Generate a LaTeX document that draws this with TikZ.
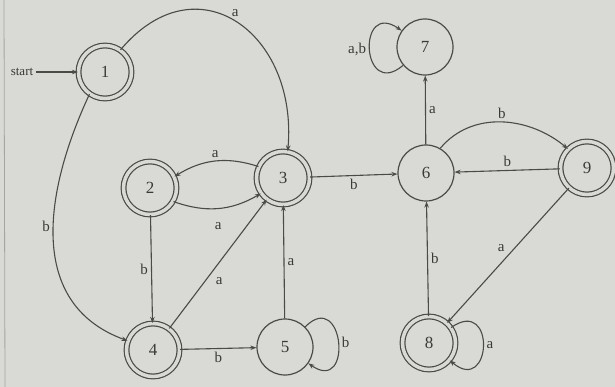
\documentclass[tikz,border=0pt]{standalone}
\usepackage{fontspec}
\setmainfont{Liberation Serif}
\usetikzlibrary{arrows.meta}
\definecolor{bg}{HTML}{D9D9D5}
\definecolor{ink}{HTML}{4A4A48}
\definecolor{txt}{HTML}{3A3A38}
\begin{document}
\begin{tikzpicture}[x=1pt,y=1pt,
  state/.style={circle,draw=ink,line width=1.2pt,minimum size=56pt,inner sep=0pt,font=\fontsize{17}{17}\selectfont,text=txt},
  accepting/.style={double=bg,double distance=3.5pt,minimum size=53pt},
  arr/.style={draw=ink,line width=1.1pt,-{Stealth[length=6pt,width=4.5pt]}},
  lbl/.style={font=\fontsize{15}{15}\selectfont,text=txt,inner sep=3pt}]
\fill[bg] (0,0) rectangle (615,-387);
\useasboundingbox (0,0) rectangle (615,-387);
\draw[ink!50,line width=0.8pt] (4,0) -- (5,-387);
\node[state,accepting] (n1) at (105,-72) {1};
\node[state,accepting] (n2) at (150,-188) {2};
\node[state,accepting] (n3) at (283,-178) {3};
\node[state,accepting] (n4) at (153,-350) {4};
\node[state] (n5) at (285,-347) {5};
\node[state] (n6) at (426,-173) {6};
\node[state] (n7) at (425,-47) {7};
\node[state,accepting] (n8) at (429,-343) {8};
\node[state,accepting] (n9) at (587,-168) {9};
\node[lbl,font=\fontsize{13}{13}\selectfont] (st) at (22,-72) {start};
\draw[arr] (st) -- (n1);
\draw[arr] (n1.55) to[out=50,in=85,looseness=1.55] node[lbl,pos=0.47,anchor=south west,inner sep=1pt] {a} (n3.80);
\draw[arr] (n1.235) to[out=245,in=160,looseness=1.1] node[lbl,pos=0.45,left] {b} (n4.160);
\draw[arr] (n3.155) to[bend right=25] node[lbl,above] {a} (n2.25);
\draw[arr] (n2.330) to[bend right=25] node[lbl,below=11pt] {a} (n3.215);
\draw[arr] (n2) -- node[lbl,left] {b} (n4);
\draw[arr] (n4) -- node[lbl,pos=0.42,below right,xshift=2pt] {a} (n3);
\draw[arr] (n4) -- node[lbl,below] {b} (n5);
\draw[arr] (n5) -- node[lbl,right] {a} (n3);
\draw[arr] (n5) to[out=45,in=-35,min distance=55pt] node[lbl,right] {b} (n5);
\draw[arr] (n3) -- node[lbl,below] {b} (n6);
\draw[arr] (n6) -- node[lbl,right] {a} (n7);
\draw[arr] (n7) to[out=220,in=145,min distance=55pt] node[lbl,left] {a,b} (n7);
\draw[arr] (n6.60) to[out=50,in=140] node[lbl,above] {b} (n9.135);
\draw[arr] (n9) -- node[lbl,above] {b} (n6);
\draw[arr] (n9) -- node[lbl,above left] {a} (n8);
\draw[arr] (n8) -- node[lbl,right] {b} (n6);
\draw[arr] (n8) to[out=35,in=-40,min distance=55pt] node[lbl,right] {a} (n8);
\end{tikzpicture}
\end{document}
